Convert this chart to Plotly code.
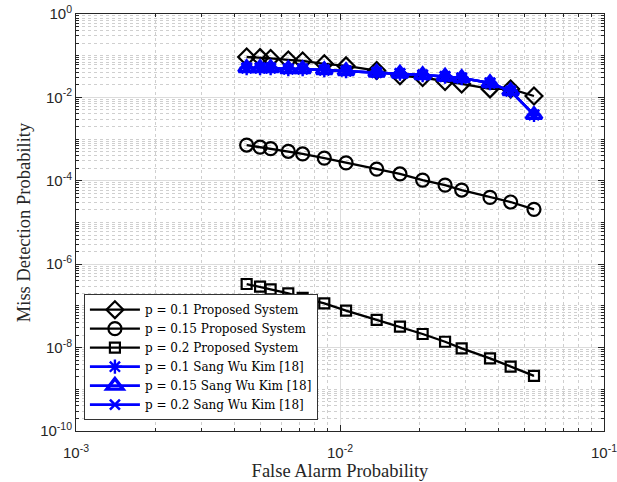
import plotly.graph_objects as go

# False-alarm probabilities shared by all curves
pfa = [4.43e-3, 4.98e-3, 5.46e-3, 6.37e-3, 7.22e-3, 8.72e-3, 1.054e-2, 1.377e-2,
       1.687e-2, 2.056e-2, 2.50e-2, 2.89e-2, 3.70e-2, 4.43e-2, 5.43e-2]

# Miss-detection probabilities, proposed system
pmd_prop_01 = [0.093, 0.090, 0.086, 0.079, 0.075, 0.064, 0.057, 0.044,
               0.033, 0.030, 0.024, 0.021, 0.016, 0.016, 0.0108]
pmd_prop_015 = [7.2e-4, 6.4e-4, 5.9e-4, 5.1e-4, 4.4e-4, 3.5e-4, 2.7e-4, 1.9e-4,
                1.46e-4, 1.04e-4, 7.9e-5, 6.0e-5, 4.0e-5, 3.1e-5, 2.07e-5]
pmd_prop_02 = [3.35e-7, 2.89e-7, 2.5e-7, 2.0e-7, 1.55e-7, 1.15e-7, 7.7e-8, 4.6e-8,
               3.17e-8, 2.12e-8, 1.38e-8, 9.6e-9, 5.5e-9, 3.5e-9, 2.1e-9]

# Miss-detection probabilities, Sang Wu Kim [18]
pmd_kim_01 = [0.0507, 0.0507, 0.0507, 0.048, 0.048, 0.0454, 0.043, 0.0395,
              0.0374, 0.0344, 0.0317, 0.0292, 0.0221, 0.0142, 0.0038]
pmd_kim_015 = [0.0507, 0.0507, 0.0507, 0.048, 0.048, 0.0454, 0.043, 0.0395,
               0.0374, 0.0344, 0.0317, 0.0292, 0.0221, 0.0142, 0.0038]
pmd_kim_02 = [0.0507, 0.0507, 0.0507, 0.048, 0.048, 0.0454, 0.043, 0.0395,
              0.0374, 0.0344, 0.0317, 0.0292, 0.0221, 0.0142, 0.0038]

# Axis tick positions and labels
x_tickvals = [1e-3, 1e-2, 1e-1]
x_ticktext = ["10<sup>-3</sup>", "10<sup>-2</sup>", "10<sup>-1</sup>"]
y_tickvals = [1e-10, 1e-8, 1e-6, 1e-4, 1e-2, 1]
y_ticktext = ["10<sup>-10</sup>", "10<sup>-8</sup>", "10<sup>-6</sup>",
              "10<sup>-4</sup>", "10<sup>-2</sup>", "10<sup>0</sup>"]

series = [
    ("p = 0.1 Proposed System", pmd_prop_01, "#000000", "diamond-open", 13, 2.2),
    ("p = 0.15 Proposed System", pmd_prop_015, "#000000", "circle-open", 13, 2.2),
    ("p = 0.2 Proposed System", pmd_prop_02, "#000000", "square-open", 10, 2.2),
    ("p = 0.1 Sang Wu Kim [18]", pmd_kim_01, "#0000FF", "asterisk-open", 12, 2.4),
    ("p = 0.15 Sang Wu Kim [18]", pmd_kim_015, "#0000FF", "triangle-up-open", 14, 3.4),
    ("p = 0.2 Sang Wu Kim [18]", pmd_kim_02, "#0000FF", "x-thin-open", 10, 2.6),
]

fig = go.Figure()
for name, yv, col, sym, sz, lw in series:
    fig.add_trace(go.Scatter(
        x=pfa, y=yv, name=name, mode="lines+markers",
        line=dict(color=col, width=2.6 if col == "#0000FF" else 2.3),
        marker=dict(symbol=sym, size=sz, color=col, line=dict(color=col, width=lw)),
    ))

serif = "Liberation Serif"
legend_font = "DejaVu Serif"
sans = "Liberation Sans"
axis_col = "#262626"
grid_major = "#dcdcdc"
grid_minor = "#cfcfcf"

common_axis = dict(
    type="log", showline=True, linecolor=axis_col, linewidth=1, mirror="allticks",
    ticks="inside", ticklen=6, tickcolor=axis_col,
    showgrid=True, gridcolor=grid_major, gridwidth=1,
    tickfont=dict(family=sans, size=15, color=axis_col),
    ticklabeloverflow="allow", automargin=False,
    minor=dict(dtick="D1", ticks="inside", ticklen=3, tickcolor=axis_col,
               showgrid=True, gridcolor=grid_minor, griddash="dot", gridwidth=1),
    zeroline=False,
)

fig.update_layout(
    width=617, height=482,
    margin=dict(l=76, r=13, t=14, b=51, autoexpand=False),
    paper_bgcolor="white", plot_bgcolor="white",
    showlegend=True,
    legend=dict(
        x=0.015, y=0.026, xanchor="left", yanchor="bottom",
        bgcolor="white", bordercolor="#333333", borderwidth=1,
        font=dict(family=legend_font, size=12, color="black"),
        itemwidth=50, tracegroupgap=0,
    ),
    xaxis=dict(
        common_axis, range=[-3, -1], tickvals=x_tickvals, ticktext=x_ticktext,
        ticklabelstandoff=8,
        title=dict(text="False Alarm Probability",
                   font=dict(family=serif, size=18.5, color=axis_col), standoff=2),
    ),
    yaxis=dict(
        common_axis, range=[-10, 0], tickvals=y_tickvals, ticktext=y_ticktext,
        title=dict(text="Miss Detection Probability",
                   font=dict(family=serif, size=18.5, color=axis_col), standoff=4),
    ),
)

fig.write_html("out.html")
